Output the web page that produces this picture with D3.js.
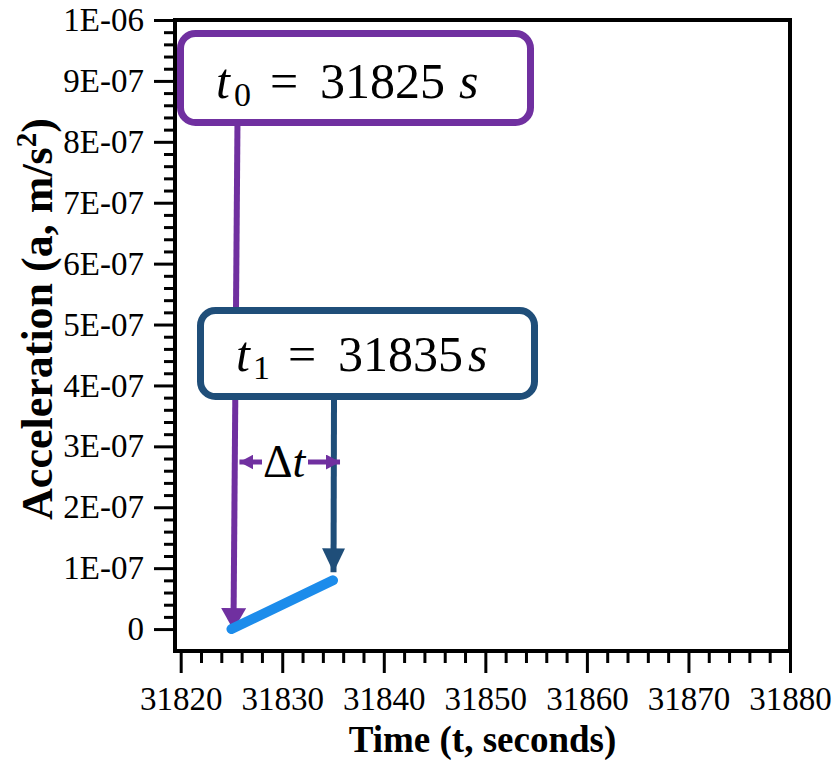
<!DOCTYPE html>
<html>
<head>
<meta charset="utf-8">
<script src="https://cdn.jsdelivr.net/npm/d3@7"></script>
<style>
  html, body { margin: 0; padding: 0; background: #fff; }
  svg { display: block; }
</style>
</head>
<body>
<svg id="chart" width="835" height="760"></svg>
<script>
// Measured acceleration over the interval t0 -> t1
const times = [31825, 31835];
const accel = [0, 8e-8];

// Axis ticks
const xTicks = [31820, 31830, 31840, 31850, 31860, 31870, 31880];
const yTicks = [0, 1e-7, 2e-7, 3e-7, 4e-7, 5e-7, 6e-7, 7e-7, 8e-7, 9e-7, 1e-6];
const yTickLabels = ["0", "1E-07", "2E-07", "3E-07", "4E-07", "5E-07", "6E-07", "7E-07", "8E-07", "9E-07", "1E-06"];

const purple = "#7030A0";
const navy = "#1F4E79";
const blue = "#1C8CEB";

const svg = d3.select("#chart");
const plotL = 175, plotR = 790, plotT = 20, plotB = 651;

const x = d3.scaleLinear().domain([31819.44, 31880]).range([plotL, plotR]);
const y = d3.scaleLinear().domain([-3.6e-8, 1e-6]).range([plotB, plotT]);

const serif = "'Liberation Serif', 'Times New Roman', serif";

// Y axis: majors every 1E-07, minors every 2E-08
const yMinor = d3.range(0, 50).map(i => i * 2e-8).filter(v => yTicks.every(t => Math.abs(t - v) > 1e-12));
svg.append("g").attr("transform", `translate(${plotL},0)`)
  .call(d3.axisLeft(y).tickValues(yMinor).tickSize(11).tickFormat(""))
  .call(g => g.select(".domain").remove())
  .call(g => g.selectAll("line").attr("stroke", "#000").attr("stroke-width", 3));
svg.append("g").attr("transform", `translate(${plotL},0)`)
  .call(d3.axisLeft(y).tickValues(yTicks).tickSize(21).tickPadding(10)
    .tickFormat((d, i) => yTickLabels[i]))
  .call(g => g.select(".domain").remove())
  .call(g => g.selectAll("line").attr("stroke", "#000").attr("stroke-width", 3))
  .call(g => g.selectAll("text").attr("font-family", serif).attr("font-size", 33).attr("fill", "#000"));

// X axis: majors every 10 s, minors every 2 s
const xMinor = d3.range(31822, 31880, 2).filter(v => v % 10 !== 0);
svg.append("g").attr("transform", `translate(0,${plotB})`)
  .call(d3.axisBottom(x).tickValues(xMinor).tickSize(12).tickFormat(""))
  .call(g => g.select(".domain").remove())
  .call(g => g.selectAll("line").attr("stroke", "#000").attr("stroke-width", 3));
svg.append("g").attr("transform", `translate(0,${plotB})`)
  .call(d3.axisBottom(x).tickValues(xTicks).tickSize(22).tickPadding(14).tickFormat(d3.format("d")))
  .call(g => g.select(".domain").remove())
  .call(g => g.selectAll("line").attr("stroke", "#000").attr("stroke-width", 3))
  .call(g => g.selectAll("text").attr("font-family", serif).attr("font-size", 33).attr("fill", "#000"));

// Plot frame
svg.append("rect")
  .attr("x", plotL).attr("y", plotT)
  .attr("width", plotR - plotL).attr("height", plotB - plotT)
  .attr("fill", "none").attr("stroke", "#000").attr("stroke-width", 4);

// Axis titles
svg.append("text")
  .attr("x", (plotL + plotR) / 2).attr("y", 752)
  .attr("text-anchor", "middle")
  .attr("font-family", serif).attr("font-weight", "bold").attr("font-size", 37)
  .text("Time (t, seconds)");

const yt = svg.append("text")
  .attr("transform", `translate(52,319) rotate(-90)`)
  .attr("text-anchor", "middle")
  .attr("font-family", serif).attr("font-weight", "bold").attr("font-size", 44);
yt.append("tspan").text("Acceleration (a, m/s");
yt.append("tspan").attr("font-size", 29).attr("dy", -16).text("2");
yt.append("tspan").attr("dy", 16).text(")");

// Arrow marker helper
const defs = svg.append("defs");
function arrowHead(id, color, w, h) {
  defs.append("marker")
    .attr("id", id).attr("viewBox", `0 0 ${h} ${w}`)
    .attr("refX", h).attr("refY", w / 2)
    .attr("markerUnits", "userSpaceOnUse")
    .attr("markerWidth", h).attr("markerHeight", w)
    .attr("orient", "auto-start-reverse")
    .append("path").attr("d", `M0,0 L${h},${w / 2} L0,${w} Z`).attr("fill", color);
}
arrowHead("headPurple", purple, 25, 22);
arrowHead("headNavy", navy, 23, 24);
arrowHead("headSmall", purple, 15, 14);

const x0 = x(times[0]), y0 = y(accel[0]);
const x1 = x(times[1]), y1 = y(accel[1]);

// Arrow from the t0 label down to the first sample
svg.append("line")
  .attr("x1", x0 + 6).attr("y1", 124)
  .attr("x2", x0 + 2).attr("y2", y0 + 1)
  .attr("stroke", purple).attr("stroke-width", 6)
  .attr("marker-end", "url(#headPurple)");

// Data segment
const line = d3.line().x((d, i) => x(times[i])).y(d => y(d));
svg.append("path")
  .datum(accel)
  .attr("d", line)
  .attr("fill", "none").attr("stroke", blue)
  .attr("stroke-width", 10).attr("stroke-linecap", "round");

// Arrow from the t1 label down to the second sample
svg.append("line")
  .attr("x1", x1 + 1).attr("y1", 398)
  .attr("x2", x1 + 0.5).attr("y2", y1 - 8)
  .attr("stroke", navy).attr("stroke-width", 6)
  .attr("marker-end", "url(#headNavy)");

// Δt double arrow
const dtY = 462;
svg.append("line")
  .attr("x1", x0 + 8).attr("y1", dtY).attr("x2", 262).attr("y2", dtY)
  .attr("stroke", purple).attr("stroke-width", 5)
  .attr("marker-start", "url(#headSmall)");
svg.append("line")
  .attr("x1", 308).attr("y1", dtY).attr("x2", x1 + 7).attr("y2", dtY)
  .attr("stroke", purple).attr("stroke-width", 5)
  .attr("marker-end", "url(#headSmall)");
const dt = svg.append("text").attr("y", 477).attr("font-family", serif).attr("font-size", 46).attr("fill", "#000");
dt.append("tspan").attr("x", 263).text("Δ");
dt.append("tspan").attr("font-style", "italic").text("t");

// Label boxes
function labelBox(bx, by, bw, bh, color, parts) {
  const g = svg.append("g");
  g.append("rect")
    .attr("x", bx).attr("y", by).attr("width", bw).attr("height", bh)
    .attr("rx", 15).attr("ry", 15)
    .attr("fill", "#fff").attr("stroke", color).attr("stroke-width", 7);
  parts.forEach(p => {
    g.append("text")
      .attr("x", p.x).attr("y", p.y)
      .attr("font-family", serif).attr("font-size", p.size)
      .attr("font-style", p.italic ? "italic" : "normal")
      .attr("fill", "#000").text(p.text);
  });
}

labelBox(180.5, 33.5, 350, 89, purple, [
  { x: 216, y: 98, size: 50, italic: true, text: "t" },
  { x: 234, y: 106, size: 34, text: "0" },
  { x: 270, y: 98, size: 50, text: "=" },
  { x: 320, y: 98, size: 50, text: "31825" },
  { x: 459, y: 98, size: 50, italic: true, text: "s" }
]);

labelBox(200.5, 310.5, 334, 86, navy, [
  { x: 236, y: 371, size: 50, italic: true, text: "t" },
  { x: 253, y: 379, size: 34, text: "1" },
  { x: 288, y: 371, size: 50, text: "=" },
  { x: 338, y: 371, size: 50, text: "31835" },
  { x: 468, y: 371, size: 50, italic: true, text: "s" }
]);
</script>
</body>
</html>
